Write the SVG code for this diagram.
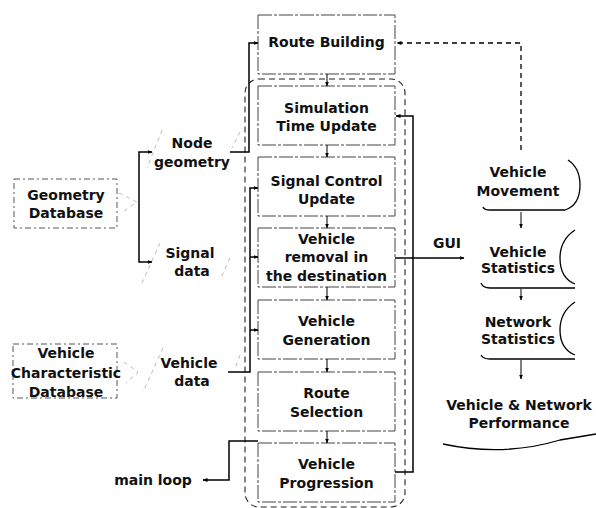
<svg xmlns="http://www.w3.org/2000/svg" width="596" height="508" viewBox="0 0 596 508">
<defs>
<marker id="ah" viewBox="0 0 10 10" refX="9" refY="5" markerWidth="5" markerHeight="5" orient="auto" markerUnits="userSpaceOnUse">
<path d="M0,1 L10,5 L0,9 Z" fill="#000"/>
</marker>
<style>
text{font-family:"DejaVu Sans","Verdana",sans-serif;font-weight:bold;font-size:14px;fill:#111;text-anchor:middle}
.box{fill:#fff;stroke:#444;stroke-width:1;stroke-dasharray:14 2 3 2}
.src{fill:#fff;stroke:#555;stroke-width:1;stroke-dasharray:6 3 2 3}
.faint{fill:none;stroke:#aaa;stroke-width:0.8;stroke-dasharray:4 4}
.line{fill:none;stroke:#000;stroke-width:1.5}
.thin{fill:none;stroke:#000;stroke-width:1}
.dash{fill:none;stroke:#000;stroke-width:1.3;stroke-dasharray:5 4}
.loop{fill:none;stroke:#222;stroke-width:1.1;stroke-dasharray:6 4}
.store{fill:none;stroke:#000;stroke-width:1.3}
</style>
</defs>

<rect class="loop" x="245" y="79" width="160" height="428" rx="14"/>

<g id="route-building"><rect class="box" x="258" y="15" width="137" height="59"/><text x="326.5" y="47">Route Building</text></g>
<g id="sim-time"><rect class="box" x="258" y="86" width="137" height="59"/><text x="326.5" y="113">Simulation</text><text x="326.5" y="131">Time Update</text></g>
<g id="signal-control"><rect class="box" x="258" y="157" width="137" height="59"/><text x="326.5" y="186">Signal Control</text><text x="326.5" y="204">Update</text></g>
<g id="vehicle-removal"><rect class="box" x="258" y="228" width="137" height="59"/><text x="326.5" y="244">Vehicle</text><text x="326.5" y="262">removal in</text><text x="326.5" y="281">the destination</text></g>
<g id="vehicle-generation"><rect class="box" x="258" y="300" width="137" height="59"/><text x="326.5" y="326">Vehicle</text><text x="326.5" y="345">Generation</text></g>
<g id="route-selection"><rect class="box" x="258" y="372" width="137" height="59"/><text x="326.5" y="398">Route</text><text x="326.5" y="417">Selection</text></g>
<g id="vehicle-progression"><rect class="box" x="258" y="443" width="137" height="59"/><text x="326.5" y="469">Vehicle</text><text x="326.5" y="488">Progression</text></g>

<g id="geometry-db"><rect class="src" x="14" y="179" width="103" height="49"/><text x="66" y="200">Geometry</text><text x="66" y="218">Database</text><path class="faint" d="M119,193 L137,202 L124,211"/></g>
<g id="vehicle-db"><rect class="src" x="13" y="344" width="104" height="54"/><text x="66" y="358">Vehicle</text><text x="66" y="378">Characteristic</text><text x="66" y="397">Database</text><path class="faint" d="M124,362 L138,372 L126,383"/></g>

<g id="node-geometry"><text x="192" y="148">Node</text><text x="192" y="167">geometry</text><path class="faint" d="M162,130 L147,168 M240,132 L232,148"/></g>
<g id="signal-data"><text x="190" y="258">Signal</text><text x="192" y="276">data</text><path class="faint" d="M160,243 L142,283 M230,258 L220,280"/></g>
<g id="vehicle-data"><text x="189" y="368">Vehicle</text><text x="192" y="386">data</text><path class="faint" d="M163,348 L143,392 M240,355 L236,366"/></g>

<g id="vehicle-movement"><text x="518" y="177">Vehicle</text><text x="518" y="196">Movement</text><path class="store" d="M483,207 Q484,210 490,210 L565,210 Q580,205 580,185 Q580,168 568,160"/></g>
<g id="vehicle-statistics"><text x="518" y="257">Vehicle</text><text x="518" y="273">Statistics</text><path class="store" d="M575,230 Q560,240 560,258 Q560,278 575,284 M481,283 Q483,288 490,288 L575,288"/></g>
<g id="network-statistics"><text x="518" y="327">Network</text><text x="518" y="344">Statistics</text><path class="store" d="M575,302 Q560,312 560,330 Q560,349 575,355 M481,355 Q483,359 490,359 L575,359"/></g>
<g id="performance"><text x="519" y="410">Vehicle &amp; Network</text><text x="519" y="428">Performance</text><path class="store" d="M443,444 C480,452 520,452 560,440 L596,434"/></g>

<g id="connectors">
<path class="thin" marker-end="url(#ah)" d="M327,74 V86"/>
<path class="thin" marker-end="url(#ah)" d="M327,145 V157"/>
<path class="thin" marker-end="url(#ah)" d="M327,216 V228"/>
<path class="thin" marker-end="url(#ah)" d="M327,287 V300"/>
<path class="thin" marker-end="url(#ah)" d="M327,359 V372"/>
<path class="thin" marker-end="url(#ah)" d="M327,431 V443"/>
<path class="line" marker-end="url(#ah)" d="M230,152 H249 V43 H258"/>
<path class="line" marker-end="url(#ah)" d="M139,207 V152 H152"/>
<path class="line" marker-end="url(#ah)" d="M139,207 V262 H152"/>
<path class="line" marker-end="url(#ah)" d="M228,372 H250 V188 H258"/>
<path class="line" marker-end="url(#ah)" d="M250,257 H258"/>
<path class="line" marker-end="url(#ah)" d="M250,330 H258"/>
<path class="line" marker-end="url(#ah)" d="M395,472 H413 V116 H396"/>
<path class="line" marker-end="url(#ah)" d="M395,258 H464"/>
<text x="447" y="248">GUI</text>
<path class="line" marker-end="url(#ah)" d="M258,441 H229 V480 H203"/>
<text x="153" y="485">main loop</text>
<path class="dash" marker-end="url(#ah)" d="M521,150 V43 H397"/>
<path class="thin" marker-end="url(#ah)" d="M521,212 V228"/>
<path class="thin" marker-end="url(#ah)" d="M521,289 V300"/>
<path class="thin" marker-end="url(#ah)" d="M521,360 V379"/>
</g>
</svg>
